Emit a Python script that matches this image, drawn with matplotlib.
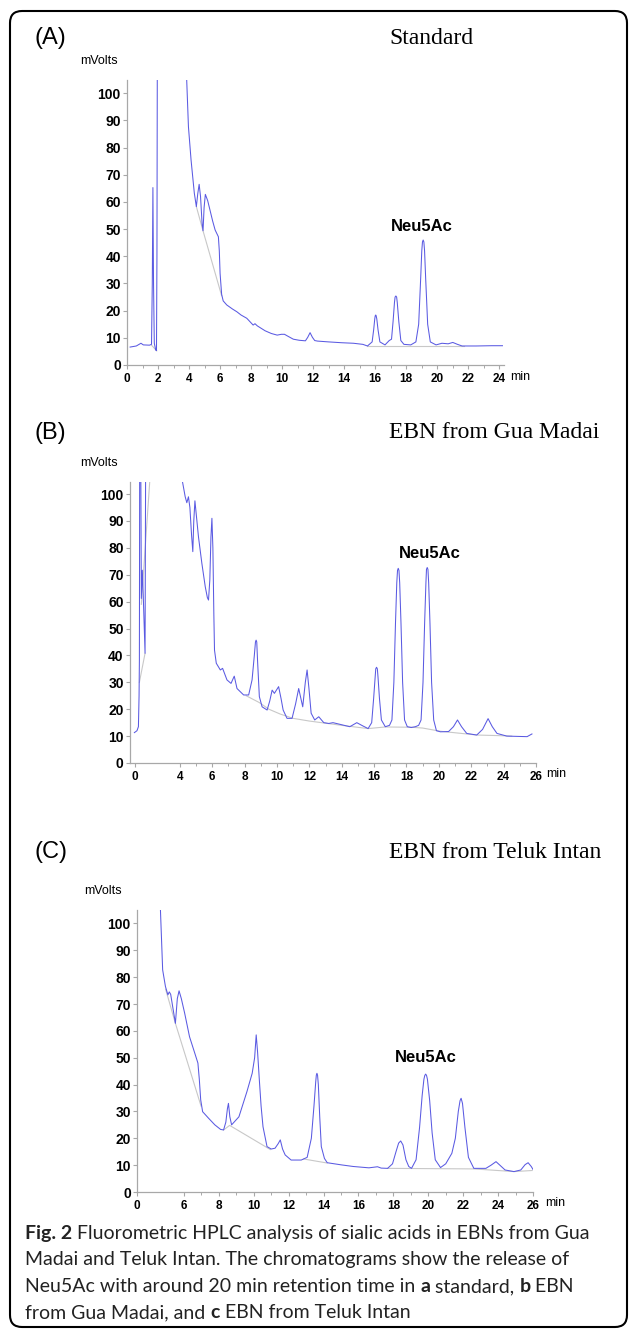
import matplotlib
matplotlib.use("Agg")
import matplotlib.pyplot as plt
import matplotlib.transforms as mtransforms
from matplotlib.patches import FancyBboxPatch

W, H = 629, 1330

# ---- panel A: standard ----
a_time = [0.20, 0.60, 0.90, 1.05, 1.45, 1.58, 1.63, 1.67, 1.71, 1.76, 1.85, 1.90, 1.93, 1.97,
          2.20, 3.00, 3.60, 3.85, 3.96, 4.13, 4.34, 4.47, 4.56, 4.65, 4.74, 4.84, 4.90, 4.97,
          5.05, 5.20, 5.35, 5.52, 5.68, 5.89, 5.95, 6.00, 6.10, 6.20, 6.43, 6.80, 7.08, 7.35,
          7.72, 7.95, 8.13, 8.25, 8.40, 8.90, 9.30, 9.68, 9.95, 10.15, 10.40, 10.72, 11.10,
          11.50, 11.65, 11.80, 11.95, 12.10, 12.28, 13.00, 13.83, 14.60, 15.20, 15.50, 15.80,
          15.90, 15.97, 16.00, 16.03, 16.06, 16.10, 16.18, 16.30, 16.63, 16.90, 17.05, 17.15,
          17.24, 17.28, 17.33, 17.38, 17.42, 17.52, 17.65, 17.85, 18.29, 18.62, 18.80, 18.93,
          19.00, 19.045, 19.09, 19.135, 19.18, 19.25, 19.38, 19.55, 19.92, 20.30, 20.70, 21.00,
          21.30, 21.60, 22.50, 23.50, 24.20]
a_mv = [6.6, 7.0, 8.0, 7.4, 7.3, 7.6, 30.0, 65.3, 30.0, 8.0, 5.5, 5.3, 40.0, 160.0,
        400.0, 300.0, 150.0, 104.6, 87.7, 75.4, 63.2, 58.3, 63.0, 66.5, 62.0, 52.0, 49.4, 58.0,
        62.8, 60.5, 57.0, 53.0, 49.7, 47.2, 42.0, 33.7, 26.0, 23.6, 22.1, 20.6, 19.6, 18.4,
        17.2, 15.8, 14.7, 15.2, 14.4, 12.6, 11.6, 11.0, 11.3, 11.3, 10.5, 9.5, 9.1,
        8.9, 10.2, 11.9, 10.2, 9.0, 8.8, 8.5, 8.2, 8.0, 7.6, 7.0, 8.5,
        13.0, 17.0, 18.1, 18.4, 18.1, 17.0, 13.0, 8.5, 7.4, 9.0, 9.5, 16.0,
        23.0, 25.0, 25.4, 25.0, 23.0, 16.0, 9.0, 7.6, 7.4, 8.5, 15.0, 32.0,
        42.0, 45.3, 46.0, 45.3, 42.0, 32.0, 15.0, 8.5, 7.4, 8.0, 7.8, 8.3,
        7.6, 7.0, 7.0, 7.1, 7.1]
a_base = [
    ([1.58, 1.92], [7.3, 5.2]),
    ([4.47, 4.90, 6.10], [58.3, 49.4, 25.5]),
    ([15.50, 21.70], [6.9, 6.9]),
]

# ---- panel B: EBN from Gua Madai ----
b_time = [1.19, 1.35, 1.44, 1.48, 1.50, 1.53, 1.58, 1.62, 1.68, 1.74, 1.85, 1.88, 1.92,
          2.50, 3.50, 4.00, 4.12, 4.33, 4.43, 4.53, 4.62, 4.72, 4.80, 4.86, 4.93, 5.02, 5.15,
          5.36, 5.57, 5.70, 5.77, 5.85, 5.92, 5.98, 6.04, 6.10, 6.14, 6.25, 6.50, 6.64, 6.78,
          6.91, 7.16, 7.36, 7.53, 7.94, 8.25, 8.46, 8.60, 8.67, 8.71, 8.75, 8.80, 8.91, 9.08,
          9.39, 9.55, 9.70, 9.84, 10.10, 10.25, 10.38, 10.62, 10.93, 11.15, 11.34, 11.59,
          11.75, 11.86, 11.97, 12.11, 12.33, 12.58, 12.89, 13.20, 13.46, 13.80, 14.50, 14.93,
          15.30, 15.63, 15.85, 15.97, 16.06, 16.10, 16.15, 16.20, 16.24, 16.33, 16.45, 16.69,
          16.95, 17.10, 17.22, 17.32, 17.40, 17.445, 17.49, 17.535, 17.58, 17.66, 17.76, 17.88,
          18.05, 18.29, 18.55, 18.75, 18.90, 19.02, 19.12, 19.20, 19.235, 19.28, 19.325, 19.37,
          19.45, 19.55, 19.68, 19.85, 20.10, 20.60, 20.90, 21.15, 21.40, 21.72, 22.34, 22.70,
          23.04, 23.30, 23.59, 24.20, 25.45, 25.75]
b_mv = [11.3, 12.0, 13.5, 25.0, 38.0, 160.0, 120.0, 61.2, 71.7, 62.0, 40.8, 100.0, 200.0,
        400.0, 300.0, 150.0, 106.0, 99.0, 96.8, 99.0, 95.0, 85.0, 78.6, 90.0, 97.5, 92.0, 84.1,
        74.2, 65.5, 61.5, 60.6, 68.0, 84.0, 91.0, 80.0, 55.0, 42.0, 37.1, 34.6, 35.2, 33.0,
        30.9, 29.6, 32.3, 27.7, 25.3, 25.3, 30.9, 40.0, 45.0, 45.7, 45.0, 38.0, 24.7, 20.9,
        19.7, 23.0, 27.1, 25.9, 28.4, 24.0, 19.7, 16.6, 16.6, 22.0, 27.7, 20.9,
        30.0, 34.6, 28.0, 18.5, 16.0, 17.2, 15.0, 14.7, 15.0, 14.5, 13.5, 15.0,
        13.8, 12.8, 15.0, 24.0, 32.0, 35.0, 35.6, 35.0, 32.0, 24.0, 16.0, 13.5,
        14.0, 16.0, 30.0, 52.0, 67.0, 71.6, 72.4, 71.6, 67.0, 52.0, 30.0, 16.0,
        13.5, 13.2, 13.5, 14.0, 16.0, 30.0, 52.0, 67.0, 72.0, 72.7, 72.0, 67.0,
        52.0, 30.0, 16.0, 12.0, 11.6, 11.7, 13.5, 16.0, 13.5, 11.0, 10.4, 12.5,
        16.5, 13.5, 11.0, 10.0, 9.8, 10.8]
b_base = [
    ([1.50, 1.85], [30.0, 40.8]),
    ([1.62, 2.20], [59.0, 110.0]),
    ([8.10, 8.90, 9.50, 10.20, 11.00, 12.00, 13.00, 14.00, 15.63, 16.69, 18.29, 19.00,
      20.10, 21.72, 22.34, 23.60, 24.50],
     [25.0, 22.5, 20.0, 18.2, 16.6, 15.6, 14.8, 14.0, 12.8, 13.4, 13.3, 13.0,
      11.8, 10.8, 10.4, 10.2, 10.0]),
]

# ---- panel C: EBN from Teluk Intan ----
c_time = [4.60, 4.66, 4.78, 4.94, 5.08, 5.16, 5.24, 5.38, 5.51, 5.62, 5.72, 5.85, 6.04,
          6.32, 6.62, 6.80, 6.88, 6.96, 7.07, 7.42, 7.77, 8.10, 8.27, 8.40, 8.49, 8.55, 8.63,
          8.73, 9.15, 9.61, 9.91, 10.05, 10.14, 10.22, 10.32, 10.42, 10.53, 10.76, 11.00,
          11.22, 11.40, 11.52, 11.65, 11.80, 12.14, 12.72, 13.06, 13.30, 13.45, 13.55, 13.585,
          13.62, 13.655, 13.70, 13.78, 13.87, 14.05, 14.21, 15.02, 15.70, 16.60, 17.09, 17.30,
          17.67, 17.95, 18.15, 18.30, 18.42, 18.55, 18.72, 18.88, 19.04, 19.30, 19.50, 19.65,
          19.75, 19.80, 19.85, 19.90, 19.95, 20.08, 20.22, 20.40, 20.70, 21.00, 21.35, 21.55,
          21.72, 21.82, 21.88, 21.96, 22.10, 22.30, 22.61, 23.30, 23.60, 23.88, 24.10, 24.40,
          24.91, 25.30, 25.55, 25.72, 25.90, 26.00]
c_mv = [115.0, 103.8, 82.7, 76.5, 73.4, 74.5, 73.6, 68.0, 62.8, 72.0, 74.9, 72.0, 66.6,
        57.8, 51.7, 48.0, 42.0, 34.3, 29.9, 27.4, 25.0, 23.3, 23.1, 26.0, 31.0, 33.0, 28.0,
        25.0, 28.0, 37.4, 44.2, 50.0, 58.5, 52.0, 41.7, 32.0, 24.3, 16.9, 16.0,
        16.3, 18.0, 19.4, 16.0, 13.8, 11.9, 11.9, 12.9, 20.0, 32.0, 41.0, 43.5,
        44.2, 43.5, 40.0, 28.0, 16.9, 12.5, 10.9, 10.1, 9.5, 9.0, 9.4, 8.9,
        8.8, 10.5, 15.0, 18.2, 19.0, 17.5, 12.0, 9.5, 8.8, 12.0, 24.0, 36.0,
        42.0, 43.4, 43.9, 43.4, 42.0, 34.0, 22.0, 12.0, 9.1, 10.5, 14.4, 20.0,
        30.0, 34.0, 34.9, 33.0, 24.0, 12.9, 8.8, 8.8, 10.0, 11.3, 10.0, 8.2,
        7.6, 8.2, 10.2, 10.9, 9.5, 8.4]
c_base = [
    ([4.95, 5.51, 6.98], [75.5, 62.8, 32.0]),
    ([8.27, 8.62, 10.95], [23.1, 24.8, 15.8]),
    ([12.85, 14.20], [12.3, 10.8]),
    ([17.67, 22.61, 24.91, 25.95], [8.8, 8.6, 7.6, 8.0]),
]

y_ticks = [0, 10, 20, 30, 40, 50, 60, 70, 80, 90, 100]
a_xticks = [0, 2, 4, 6, 8, 10, 12, 14, 16, 18, 20, 22, 24]
a_xlabels = ["0", "2", "4", "6", "8", "10", "12", "14", "16", "18", "20", "22", "24"]
b_xticks = [1.23, 4, 6, 8, 10, 12, 14, 16, 18, 20, 22, 24, 26]
b_xlabels = ["0", "4", "6", "8", "10", "12", "14", "16", "18", "20", "22", "24", "26"]
c_xticks = [3.31, 6, 8, 10, 12, 14, 16, 18, 20, 22, 24, 26]
c_xlabels = ["0", "6", "8", "10", "12", "14", "16", "18", "20", "22", "24", "26"]

titles = ["Standard", "EBN from Gua Madai", "EBN from Teluk Intan"]
letters = ["(A)", "(B)", "(C)"]

TRACE = "#5a5ae2"
BASE = "#c8c8c8"
SPINE = "#a8a8a8"
SANS = "Liberation Sans"
SERIF = "Liberation Serif"

fig = plt.figure(figsize=(W / 100, H / 100), dpi=100)
pix = mtransforms.IdentityTransform()


def fx(x):
    return x / W


def fy(y):
    return 1 - y / H


def panel(box, xlim, ylim_top, t, mv, bases, xticks, xlabels, minor, neu, min_xy):
    left, top, right, bottom = box
    ax = fig.add_axes([fx(left), fy(bottom), fx(right) - fx(left), fy(top) - fy(bottom)])
    for xs, ys in bases:
        ax.plot(xs, ys, color=BASE, lw=0.8)
    ax.plot(t, mv, color=TRACE, lw=0.75)
    ax.set_xlim(*xlim)
    ax.set_ylim(0, ylim_top)
    for s in ("top", "right"):
        ax.spines[s].set_visible(False)
    for s in ("left", "bottom"):
        ax.spines[s].set_color(SPINE)
        ax.spines[s].set_linewidth(0.9)
    ax.set_yticks(y_ticks)
    ax.set_yticklabels([str(v) for v in y_ticks])
    ax.set_xticks(xticks)
    ax.set_xticklabels(xlabels)
    ax.set_xticks(minor, minor=True)
    ax.tick_params(axis="both", which="major", direction="out", length=3, width=0.8,
                   color=SPINE)
    ax.tick_params(axis="x", which="minor", direction="out", length=2, width=0.7,
                   color=SPINE)
    ax.tick_params(axis="y", pad=1.5)
    ax.tick_params(axis="x", pad=2.5)
    for lab in ax.get_yticklabels():
        lab.set_fontfamily(SANS)
        lab.set_fontweight("bold")
        lab.set_fontsize(10)
    for lab in ax.get_xticklabels():
        lab.set_fontfamily(SANS)
        lab.set_fontweight("bold")
        lab.set_fontsize(8.5)
    ax.text(neu[0], neu[1], "Neu5Ac", ha="center", va="center", fontsize=12,
            fontweight="bold", family=SANS)
    fig.text(fx(min_xy[0]), fy(min_xy[1]), "min", ha="left", va="center",
             fontsize=9, family=SANS)
    return ax


panel((127, 80, 504, 365), (0, 24.3), 104.9, a_time, a_mv, a_base,
      a_xticks, a_xlabels, list(range(1, 24, 2)), (19.0, 50.8), (510, 377))
panel((130, 482, 536, 763), (0.92, 26.0), 104.5, b_time, b_mv, b_base,
      b_xticks, b_xlabels, list(range(5, 26, 2)), (19.44, 78.0), (546, 774))
panel((137, 910, 533, 1192), (3.31, 26.0), 105.0, c_time, c_mv, c_base,
      c_xticks, c_xlabels, list(range(7, 26, 2)), (19.87, 49.9), (545, 1203))

for letter, title, ly, mvx, mvy in zip(letters, titles, [38, 433, 852],
                                       [80, 80, 84], [61, 463, 891]):
    fig.text(fx(34), fy(ly), letter, ha="left", va="center", fontsize=17, family=SANS)
    fig.text(fx(389), fy(ly), title, ha="left", va="center", fontsize=17, family=SERIF)
    fig.text(fx(mvx), fy(mvy), "mVolts", ha="left", va="center", fontsize=9, family=SANS)

# caption with bold runs
caption = [
    [("Fig. 2", True), (" Fluorometric HPLC analysis of sialic acids in EBNs from Gua", False)],
    [("Madai and Teluk Intan. The chromatograms show the release of", False)],
    [("Neu5Ac with around 20 min retention time in ", False), ("a", True),
     (" standard, ", False), ("b", True), (" EBN", False)],
    [("from Gua Madai, and ", False), ("c", True), (" EBN from Teluk Intan", False)],
]
CAP_FONT = "Lato"
renderer = fig.canvas.get_renderer()
for line, ly in zip(caption, [1233, 1260, 1287, 1313]):
    x = 25
    for txt, bold in line:
        t = fig.text(x, H - ly, txt, transform=pix, ha="left", va="center", fontsize=14,
                     family=CAP_FONT, fontweight="bold" if bold else "normal",
                     color="#222222")
        x += t.get_window_extent(renderer).width

frame = FancyBboxPatch((10, 3), 617, 1316, boxstyle="round,pad=0,rounding_size=12",
                       transform=pix, fill=False, edgecolor="black", linewidth=1.5)
fig.patches.append(frame)

fig.savefig("out.png", dpi=100)
